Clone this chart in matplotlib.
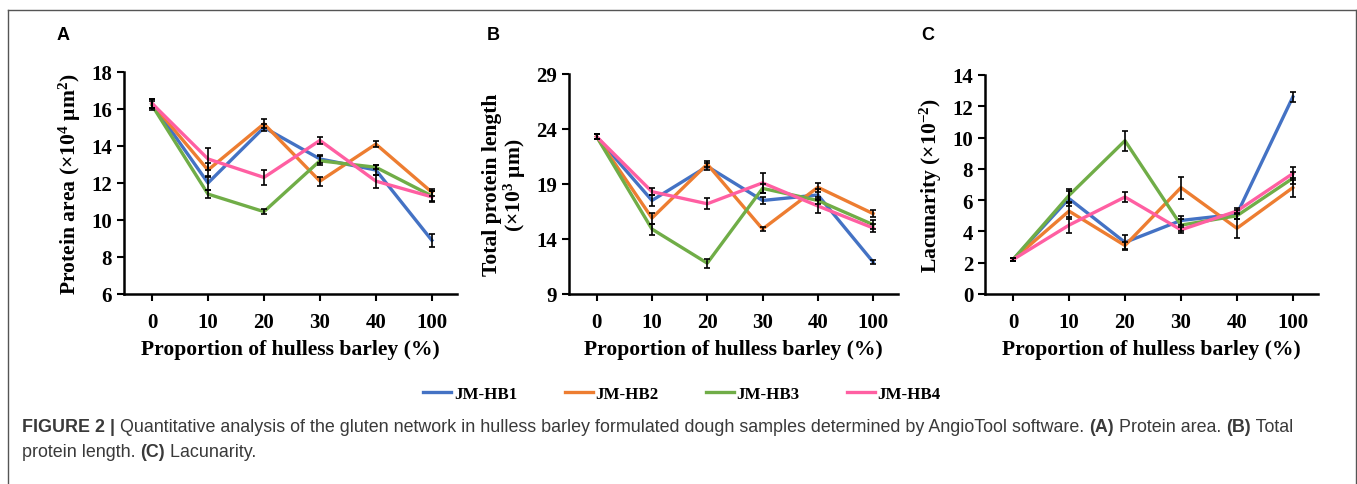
import numpy as np
import matplotlib
matplotlib.use("Agg")
import matplotlib.pyplot as plt
from matplotlib.lines import Line2D

plt.rcParams['font.family'] = ['Liberation Serif', 'DejaVu Serif']
plt.rcParams['font.weight'] = 'bold'
plt.rcParams['axes.labelweight'] = 'bold'
plt.rcParams['mathtext.default'] = 'regular'

categories = ["0", "10", "20", "30", "40", "100"]
series = ["JM-HB1", "JM-HB2", "JM-HB3", "JM-HB4"]
colors = ["#4472C4", "#ED7D31", "#70AD47", "#FF5FA2"]

# A: protein area (x10^4 um^2)
area = [[16.3, 12.0, 15.0, 13.3, 12.7, 8.9],
        [16.3, 12.7, 15.2, 12.1, 14.1, 11.5],
        [16.2, 11.4, 10.45, 13.2, 12.85, 11.3],
        [16.3, 13.3, 12.3, 14.3, 12.1, 11.25]]
area_err = [[0.25, 0.4, 0.2, 0.2, 0.25, 0.35],
            [0.25, 0.4, 0.25, 0.25, 0.15, 0.2],
            [0.25, 0.2, 0.15, 0.25, 0.1, 0.25],
            [0.25, 0.6, 0.4, 0.2, 0.35, 0.3]]

# B: total protein length (x10^3 um)
length = [[23.3, 17.5, 20.6, 17.5, 18.0, 11.9],
          [23.3, 15.9, 20.8, 14.9, 18.7, 16.3],
          [23.3, 14.9, 11.8, 18.6, 17.5, 15.3],
          [23.3, 18.3, 17.2, 19.1, 17.0, 15.0]]
length_err = [[0.2, 0.5, 0.3, 0.3, 0.5, 0.2],
              [0.2, 0.5, 0.3, 0.2, 0.4, 0.3],
              [0.2, 0.5, 0.4, 0.4, 0.3, 0.4],
              [0.2, 0.3, 0.5, 0.9, 0.6, 0.4]]

# C: lacunarity (x10^-2)
lacun = [[2.2, 6.1, 3.3, 4.7, 5.1, 12.6],
         [2.2, 5.3, 3.1, 6.8, 4.2, 6.8],
         [2.2, 6.3, 9.8, 4.4, 5.0, 7.4],
         [2.2, 4.4, 6.2, 4.1, 5.3, 7.7]]
lacun_err = [[0.1, 0.5, 0.5, 0.3, 0.3, 0.3],
             [0.1, 0.5, 0.2, 0.7, 0.6, 0.6],
             [0.1, 0.4, 0.65, 0.4, 0.2, 0.4],
             [0.1, 0.5, 0.3, 0.2, 0.2, 0.4]]

panels = [
    ("A", area, area_err, (6, 18), np.arange(6, 19, 2),
     "Protein area (×10$^{4}$ μm$^{2}$)", [0.0914, 0.3918, 0.2454, 0.4577], 63),
    ("B", length, length_err, (9, 29), np.arange(9, 30, 5),
     "Total protein length\n(×10$^{3}$ μm)", [0.4193, 0.3918, 0.2425, 0.4536], 493),
    ("C", lacun, lacun_err, (0, 14), np.arange(0, 15, 2),
     "Lacunarity (×10$^{-2}$)", [0.7259, 0.3918, 0.2454, 0.4515], 928),
]

fig = plt.figure(figsize=(13.57, 4.85), dpi=100)
x = np.arange(len(categories))

for letter, vals, errs, ylim, yticks, ylabel, pos, lx in panels:
    ax = fig.add_axes(pos)
    for i in range(len(series)):
        ax.plot(x, vals[i], color=colors[i], lw=2.4, label=series[i], zorder=2)
        ax.errorbar(x, vals[i], yerr=errs[i], fmt='none', ecolor='black',
                    elinewidth=1.2, capsize=2.5, capthick=1.2, zorder=3)
    ax.set_xlim(-0.5, 5.45)
    ax.set_ylim(*ylim)
    ax.set_yticks(yticks)
    ax.set_xticks(x)
    ax.set_xticklabels(categories)
    ax.tick_params(labelsize=15, width=1.5, length=5, direction='out')
    ax.tick_params(axis='x', pad=8)
    for s in ['top', 'right']:
        ax.spines[s].set_visible(False)
    for s in ['left', 'bottom']:
        ax.spines[s].set_linewidth(1.8)
    ax.set_xlabel("Proportion of hulless barley (%)", fontsize=15.6, labelpad=5)
    ax.set_ylabel(ylabel, fontsize=15.6, labelpad=6, linespacing=1.0)
    fig.text(lx / 1357, 1 - 35 / 485, letter, fontsize=13, fontweight='bold',
             family='Liberation Sans', ha='center', va='center')

handles = [Line2D([0], [0], color=c, lw=2.4) for c in colors]
fig.legend(handles, series, loc='center', bbox_to_anchor=(0.5026, 1 - 395 / 485),
           ncol=4, frameon=False, fontsize=12.2, handlelength=1.65, handletextpad=0.15,
           columnspacing=2.8)

# frame around figure
fig.add_artist(Line2D([8 / 1357, 1355.5 / 1357], [1 - 11 / 485, 1 - 11 / 485],
                      transform=fig.transFigure, color='#555555', lw=1))
fig.add_artist(Line2D([8 / 1357, 8 / 1357], [0, 1 - 11 / 485],
                      transform=fig.transFigure, color='#555555', lw=1))
fig.add_artist(Line2D([1355.5 / 1357, 1355.5 / 1357], [0, 1 - 11 / 485],
                      transform=fig.transFigure, color='#555555', lw=1))

# caption with mixed weights
cap1 = [("FIGURE 2 | ", 'bold'),
        ("Quantitative analysis of the gluten network in hulless barley formulated dough "
         "samples determined by AngioTool software. ", 'normal'),
        ("(A)", 'bold'), (" Protein area. ", 'normal'), ("(B)", 'bold'), (" Total", 'normal')]
cap2 = [("protein length. ", 'normal'), ("(C)", 'bold'), (" Lacunarity.", 'normal')]

renderer = fig.canvas.get_renderer()
for runs, ypix in [(cap1, 428), (cap2, 453)]:
    xpix = 22
    for txt, w in runs:
        t = fig.text(xpix / 1357, 1 - ypix / 485, txt, fontsize=12.9, fontweight=w,
                     family='Liberation Sans', color='#3a3a3a', va='center', ha='left')
        bb = t.get_window_extent(renderer=renderer)
        xpix += bb.width

fig.savefig("out.png", dpi=100)
